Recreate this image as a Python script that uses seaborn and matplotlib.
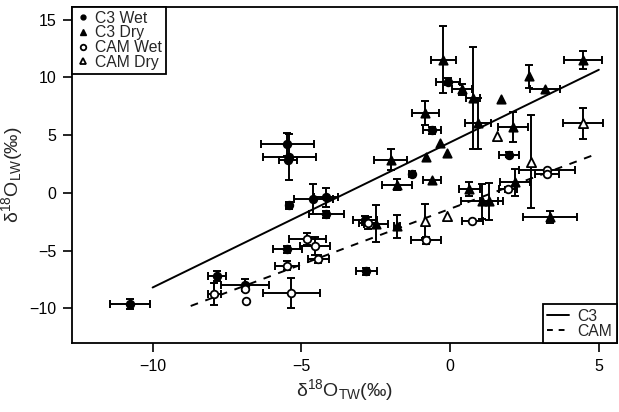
import numpy as np
import pandas as pd
import matplotlib
matplotlib.use("Agg")
import matplotlib.pyplot as plt
import seaborn as sns
from matplotlib.lines import Line2D

# ---------------- data ----------------
c3_wet_x    = [-10.77, -5.47, -5.40, -5.45, -5.40, -4.60, -4.16, -4.16, -5.47, -7.85, -6.90, -2.85, -2.82, -1.28, -0.60, -0.07, 1.98]
c3_wet_y    = [-9.65, 4.20, 3.10, 2.85, -1.10, -0.55, -0.40, -1.86, -4.90, -7.20, -8.00, -2.37, -6.80, 1.65, 5.40, 9.60, 3.30]
c3_wet_xerr = [0.67, 0.90, 0.90, 0.30, 0.10, 0.65, 0.40, 0.60, 0.50, 0.30, 0.80, 0.40, 0.35, 0.10, 0.30, 0.40, 0.35]
c3_wet_yerr = [0.45, 1.00, 2.00, 0.00, 0.30, 1.30, 0.80, 0.30, 0.30, 0.45, 0.50, 0.40, 0.30, 0.10, 0.30, 0.30, 0.20]

c3_dry_x    = [-0.23, -0.84, -0.34, -0.80, -0.10, -0.60, -2.00, -1.78, 0.40, 0.77, 0.94, 1.71, 2.65, 3.19, 4.46, 2.11, 2.18, 0.64, 1.07, 1.31, 3.36, -2.48, -1.78]
c3_dry_y    = [11.5, 6.90, 4.30, 3.10, 3.45, 1.10, 2.85, 0.70, 8.95, 8.20, 6.00, 8.10, 10.10, 8.95, 11.50, 5.70, 0.90, 0.30, -0.75, -0.75, -2.10, -2.70, -2.90]
c3_dry_xerr = [0.42, 0.45, 0.00, 0.00, 0.00, 0.30, 0.55, 0.50, 0.35, 0.25, 0.45, 0.00, 0.00, 0.50, 0.64, 0.50, 0.50, 0.35, 0.70, 0.30, 0.90, 0.40, 0.10]
c3_dry_yerr = [2.90, 1.05, 0.00, 0.00, 0.00, 0.00, 0.90, 0.50, 0.50, 4.40, 2.20, 0.00, 1.00, 0.00, 0.75, 1.30, 1.20, 0.60, 1.50, 1.60, 0.55, 1.60, 1.00]

cam_wet_x    = [-4.80, -4.53, -4.43, -5.47, -5.34, -7.92, -6.88, -6.85, -2.75, 3.26, 3.26, 1.95, 0.74, -0.80]
cam_wet_y    = [-4.00, -4.60, -5.70, -6.30, -8.70, -8.80, -8.30, -9.40, -2.60, 2.00, 1.60, 0.30, -2.45, -4.10]
cam_wet_xerr = [0.63, 0.50, 0.35, 0.40, 0.95, 0.23, 0.00, 0.00, 0.30, 0.95, 0.40, 0.30, 0.35, 0.50]
cam_wet_yerr = [0.50, 0.80, 0.35, 0.40, 1.30, 0.95, 0.00, 0.00, 0.50, 0.00, 0.00, 0.20, 0.00, 0.30]

cam_dry_x    = [4.46, 1.58, 2.72, -0.10, -0.84]
cam_dry_y    = [6.00, 4.90, 2.70, -2.00, -2.45]
cam_dry_xerr = [0.67, 0.00, 0.00, 0.00, 0.00]
cam_dry_yerr = [1.35, 0.00, 4.00, 0.00, 1.50]

# regression lines (end points)
c3_line_x  = [-10.0, 5.0]
c3_line_y  = [-8.2, 10.65]
cam_line_x = [-8.72, 4.93]
cam_line_y = [-9.8, 3.37]

groups = ["C3 Wet", "C3 Dry", "CAM Wet", "CAM Dry"]
xticks = [-10, -5, 0, 5]
yticks = [-10, -5, 0, 5, 10, 15]

# ---------------- build table ----------------
frames = []
for name, xs, ys, xe, ye in [
    ("C3 Wet", c3_wet_x, c3_wet_y, c3_wet_xerr, c3_wet_yerr),
    ("C3 Dry", c3_dry_x, c3_dry_y, c3_dry_xerr, c3_dry_yerr),
    ("CAM Wet", cam_wet_x, cam_wet_y, cam_wet_xerr, cam_wet_yerr),
    ("CAM Dry", cam_dry_x, cam_dry_y, cam_dry_xerr, cam_dry_yerr),
]:
    frames.append(pd.DataFrame({"x": xs, "y": ys, "xerr": xe, "yerr": ye, "group": name}))
df = pd.concat(frames, ignore_index=True)
lines = pd.concat([
    pd.DataFrame({"x": c3_line_x, "y": c3_line_y, "fit": "C3"}),
    pd.DataFrame({"x": cam_line_x, "y": cam_line_y, "fit": "CAM"}),
], ignore_index=True)

# ---------------- style ----------------
sns.set_theme(style="ticks")
plt.rcParams["font.family"] = ["Liberation Sans", "DejaVu Sans"]
plt.rcParams["mathtext.fontset"] = "custom"
plt.rcParams["mathtext.rm"] = "Liberation Sans"
plt.rcParams["mathtext.it"] = "Liberation Sans"
plt.rcParams["mathtext.default"] = "regular"

fig = plt.figure(figsize=(6.19, 4.12), dpi=100)
L, R, T, B = 72.3, 616.7, 6.7, 343.3
ax = fig.add_axes([L / 619, 1 - B / 412, (R - L) / 619, (B - T) / 412])

# error bars
sub = df[(df.xerr > 0) | (df.yerr > 0)]
ax.errorbar(sub.x, sub.y, xerr=sub.xerr.where(sub.xerr > 0), yerr=sub.yerr.where(sub.yerr > 0),
            fmt="none", ecolor="black", elinewidth=1.4, capsize=3, capthick=1.4, zorder=2)

# markers
marker_map = {"C3 Wet": "o", "C3 Dry": "^", "CAM Wet": "o", "CAM Dry": "^"}
face_map = {"C3 Wet": "black", "C3 Dry": "black", "CAM Wet": "white", "CAM Dry": "white"}
size_map = {"C3 Wet": 30, "C3 Dry": 36, "CAM Wet": 30, "CAM Dry": 44}
for g in groups:
    d = df[df.group == g]
    sns.scatterplot(data=d, x="x", y="y", marker=marker_map[g], color=face_map[g],
                    edgecolor="black", linewidth=1.3, s=size_map[g], ax=ax, zorder=3, legend=False)

# regression lines
sns.lineplot(data=lines[lines.fit == "C3"], x="x", y="y", color="black", lw=1.4, ax=ax,
             legend=False, estimator=None, sort=False)
sns.lineplot(data=lines[lines.fit == "CAM"], x="x", y="y", color="black", lw=1.4, ax=ax,
             legend=False, estimator=None, sort=False, linestyle=(0, (4, 4)))

ax.set_xlim(-12.70, 5.60)
ax.set_ylim(-13.03, 16.11)
ax.set_xticks(xticks)
ax.set_yticks(yticks)
ax.set_xticklabels(["\u2212" + str(-v) if v < 0 else str(v) for v in xticks])
ax.set_yticklabels(["\u2212" + str(-v) if v < 0 else str(v) for v in yticks])
ax.tick_params(direction="out", length=6.5, width=1.2, labelsize=11.5, colors="black", pad=5)
for s in ax.spines.values():
    s.set_visible(True)
    s.set_linewidth(1.3)
    s.set_color("black")

ax.set_xlabel(r"$\delta^{18}$O$_{TW}$(‰)", fontsize=14, labelpad=2)
ax.set_ylabel(r"$\delta^{18}$O$_{LW}$(‰)", fontsize=14, labelpad=3)

# legends
h1 = [
    Line2D([], [], marker="o", ls="none", mfc="black", mec="black", ms=3.5),
    Line2D([], [], marker="^", ls="none", mfc="black", mec="black", ms=4),
    Line2D([], [], marker="o", ls="none", mfc="white", mec="black", ms=4, mew=1.3),
    Line2D([], [], marker="^", ls="none", mfc="white", mec="black", ms=5, mew=1.3),
]
leg1 = ax.legend(h1, groups, loc="upper left", bbox_to_anchor=(0, 1), borderaxespad=0,
                 frameon=True, fancybox=False, edgecolor="black", framealpha=1,
                 handlelength=0.8, handletextpad=0.4, labelspacing=-0.02, borderpad=0.25,
                 fontsize=11.3)
leg1.get_frame().set_linewidth(1.3)
ax.add_artist(leg1)
h2 = [Line2D([], [], color="black", lw=1.4), Line2D([], [], color="black", lw=1.4, ls=(0, (3, 3)))]
leg2 = ax.legend(h2, ["C3", "CAM"], loc="lower right", bbox_to_anchor=(1, 0), borderaxespad=0,
                 frameon=True, fancybox=False, edgecolor="black", framealpha=1,
                 handlelength=1.4, handletextpad=0.5, labelspacing=-0.02, borderpad=0.3,
                 fontsize=11.3)
leg2.get_frame().set_linewidth(1.3)

fig.savefig("out.png", dpi=100)
